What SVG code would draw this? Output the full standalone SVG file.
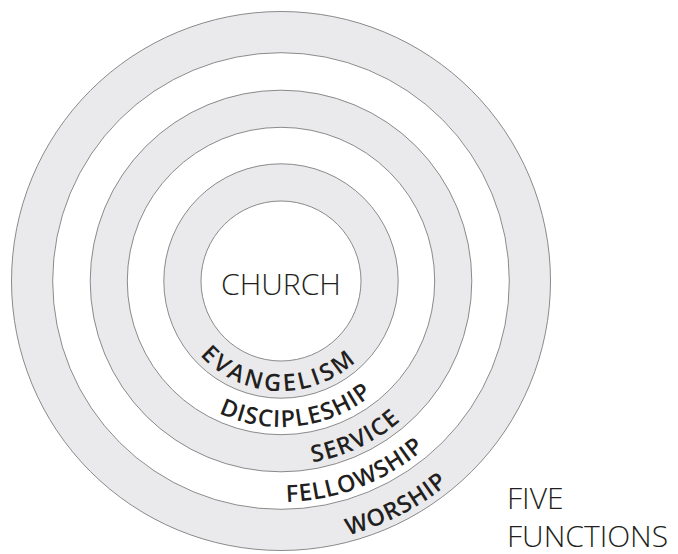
<svg xmlns="http://www.w3.org/2000/svg" xmlns:xlink="http://www.w3.org/1999/xlink" width="678" height="554" viewBox="0 0 678 554">
  <style>
    .ring { stroke: #6e6e6e; stroke-width: 0.8; }
    .gray { fill: #eaeaec; }
    .white { fill: #ffffff; }
    .lbl { font-family: "Open Sans", "Liberation Sans", sans-serif; font-weight: 600; font-size: 23.5px; fill: #231f20; }
    .big { font-family: "Open Sans", "Liberation Sans", sans-serif; font-weight: 300; font-size: 30px; fill: #231f20; }
  </style>
  <defs>
    <path id="p-evangelism" d="M 199.9 355.3 A 110 110 0 0 0 355.5 362.0"/>
    <path id="p-discipleship" d="M 218.6 413.0 A 146 146 0 0 0 372.1 395.1"/>
    <path id="p-service" d="M 312.6 462.3 A 184 184 0 0 0 400.5 420.9"/>
    <path id="p-fellowship" d="M 286.4 501.9 A 221 221 0 0 0 424.5 449.0"/>
    <path id="p-worship" d="M 348.2 535.3 A 263 263 0 0 0 447.9 484.2"/>
  </defs>

  <g id="worship">
    <circle class="ring gray" cx="281" cy="281" r="269.5"/>
    <text class="lbl"><textPath xlink:href="#p-worship" href="#p-worship" textLength="112.9" lengthAdjust="spacing">WORSHIP</textPath></text>
  </g>
  <g id="fellowship">
    <circle class="ring white" cx="281" cy="281" r="228.3"/>
    <text class="lbl"><textPath xlink:href="#p-fellowship" href="#p-fellowship" textLength="150.8" lengthAdjust="spacing">FELLOWSHIP</textPath></text>
  </g>
  <g id="service">
    <circle class="ring gray" cx="281" cy="281" r="190.8"/>
    <text class="lbl"><textPath xlink:href="#p-service" href="#p-service" textLength="98.3" lengthAdjust="spacing">SERVICE</textPath></text>
  </g>
  <g id="discipleship">
    <circle class="ring white" cx="281" cy="281" r="153.7"/>
    <text class="lbl"><textPath xlink:href="#p-discipleship" href="#p-discipleship" textLength="162.8" lengthAdjust="spacing">DISCIPLESHIP</textPath></text>
  </g>
  <g id="evangelism">
    <circle class="ring gray" cx="281" cy="281" r="117.2"/>
    <text class="lbl"><textPath xlink:href="#p-evangelism" href="#p-evangelism" textLength="173" lengthAdjust="spacing">EVANGELISM</textPath></text>
  </g>
  <g id="church">
    <circle class="ring white" cx="281" cy="281" r="80"/>
    <text class="big" x="281" y="295" text-anchor="middle" font-size="32">CHURCH</text>
  </g>
  <g id="five-functions">
    <text class="big" x="507" y="509">FIVE</text>
    <text class="big" x="507" y="546.5">FUNCTIONS</text>
  </g>
</svg>
